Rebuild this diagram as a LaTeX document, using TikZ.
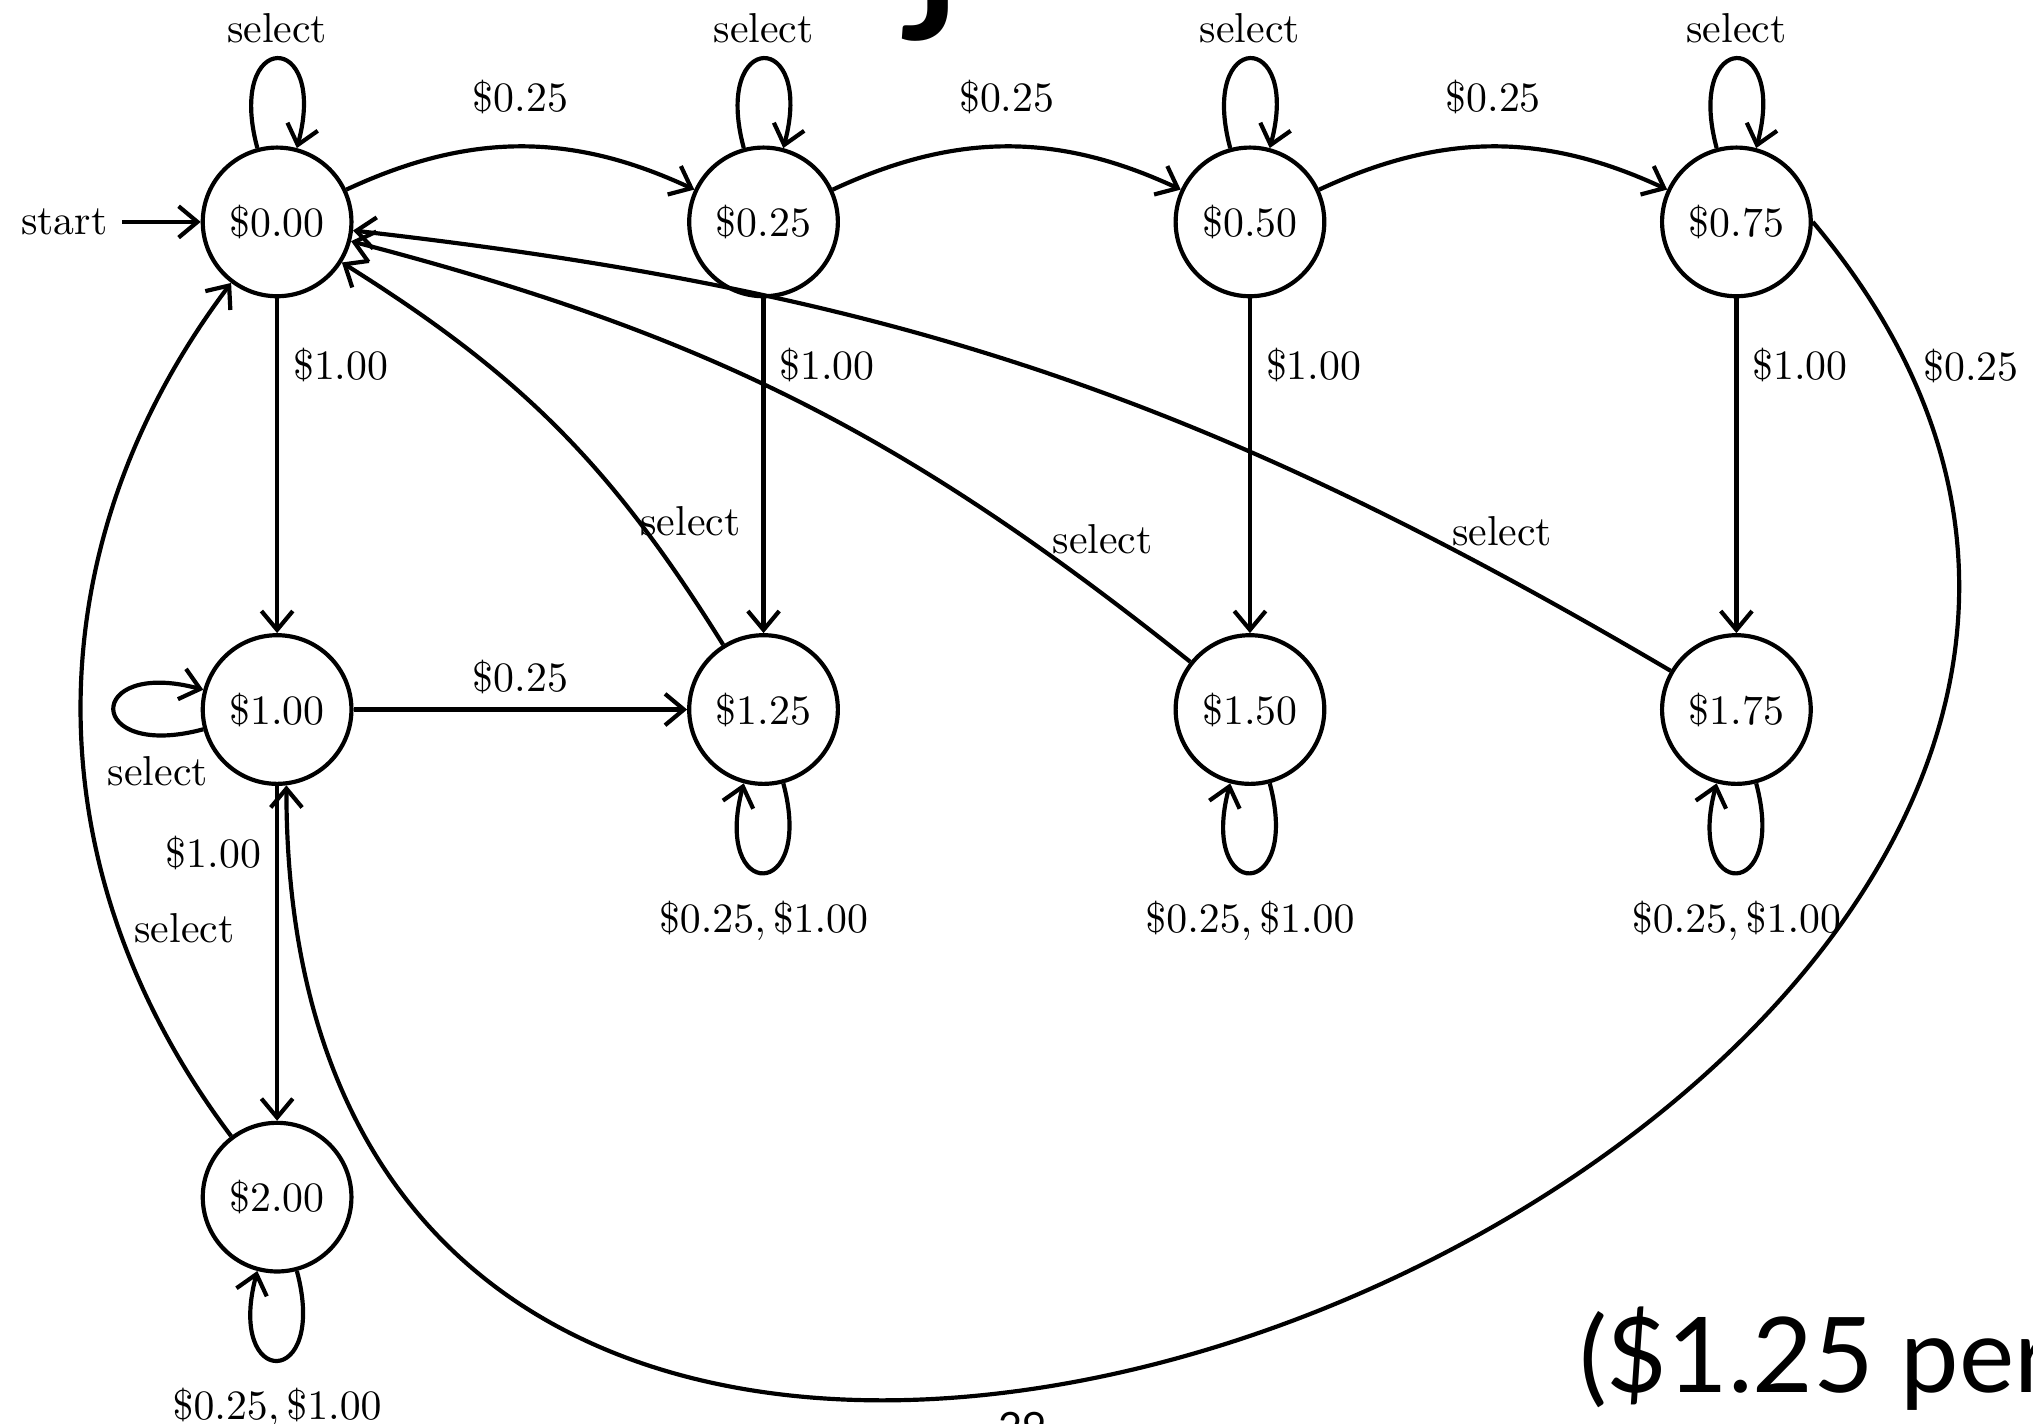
\documentclass[tikz,border=0pt]{standalone}
\usepackage{fontspec}
\usepackage{amsmath}
\usepackage{tikz}
\usetikzlibrary{positioning, arrows.meta}
\newfontfamily\notefont{Lato}

\begin{document}
\begin{tikzpicture}[
  >={Straight Barb[length=4.5pt, width=7.5pt]},
  amount/.style={draw, circle, line width=1pt, minimum size=1.25cm, inner sep=1pt},
  move/.style={->, line width=1pt}
]
\useasboundingbox (-2.33,-10.106) rectangle (14.764,1.866);

% Money states
\foreach \c/\x in {00/0, 25/1, 50/2, 75/3} {
  \node[amount] (c0\c) at (4.09*\x, 0) {\$0.\c};
  \node[amount] (c1\c) at (4.09*\x, -4.1) {\$1.\c};
}
\node[amount] (c200) at (0, -8.2) {\$2.00};

% Start
\node (start) [left=0.66cm of c000] {start};
\draw[move] (start) -- (c000);

% Coins
\foreach \a/\b in {00/25, 25/50, 50/75} {
  \draw[move] (c0\a) to[bend left=25] node[above=4pt] {\$0.25} (c0\b);
}
\foreach \c in {00, 25, 50, 75} {
  \draw[move] (c0\c) to[loop above] node[above] {select} ();
  \draw[move] (c0\c) -- node[pos=0.2, right] {\$1.00} (c1\c);
}
\draw[move] (c100) -- node[above] {\$0.25} (c125);
\draw[move] (c100) -- node[pos=0.2, left] {\$1.00} (c200);
\draw[move] (c075.east) .. controls +(-50:9.59) and +(0,-10.68) .. (c100.-83)
  node[pos=0.055, right] {\$0.25};

% Select goes back to $0.00
\draw[move] (c100) to[loop left] node[pos=0.2, below=0.5mm, xshift=1mm] {select} ();
\draw[move] (c125) to[bend right=13] node[pos=0.26, right, inner sep=0pt] {select} (c000);
\draw[move] (c150) to[bend right=12] node[pos=0.17, above right, inner sep=0pt] {select} (c000);
\draw[move] (c175) to[bend right=12] node[pos=0.165, above right, inner sep=0pt] {select} (c000);
\draw[move] (c200) to[bend left=37] node[pos=0.25, right] {select} (c000);

% Too much money: stay
\foreach \c in {125, 150, 175, 200} {
  \draw[move] (c\c) to[loop below] node[below=1mm] {$\$0.25, \$1.00$} ();
}

% Slide leftovers
\node[anchor=base west, inner sep=0pt, font=\notefont\fontsize{25}{30}\selectfont] (note) at (10.94,-9.846) {(\$1.25 per};
\node[anchor=north, inner sep=0pt, font=\notefont\fontsize{10}{12}\selectfont] (page) at (6.27,-10.0) {29};
\node[anchor=south east, inner sep=0pt, font=\notefont\fontsize{55}{60}\selectfont] (title) at (5.8,1.513) {j};
\end{tikzpicture}
\end{document}
